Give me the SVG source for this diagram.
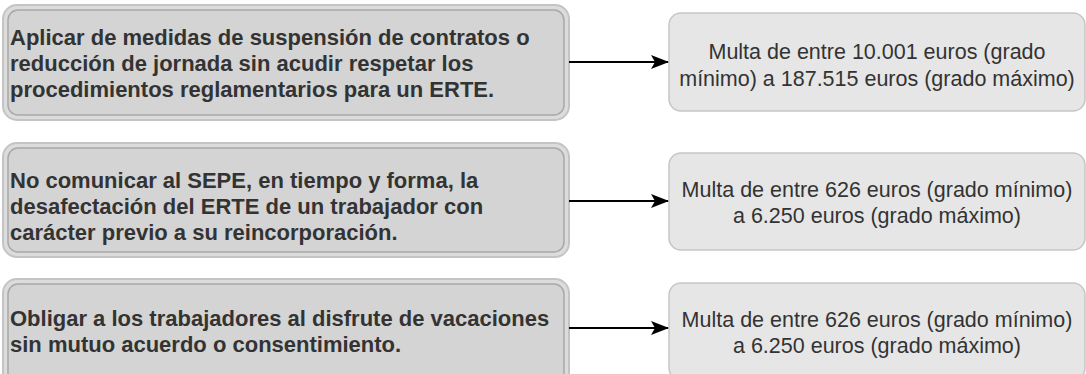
<svg xmlns="http://www.w3.org/2000/svg" width="1086" height="374" viewBox="0 0 1086 374">
<style>
.outer{fill:#dcdcdc;stroke:#c4c4c4;stroke-width:2}
.inner{fill:#d4d4d4;stroke:#a8a8a8;stroke-width:1.5}
.res{fill:#e6e6e6;stroke:#c6c6c6;stroke-width:1.5}
.lt{font-family:"Liberation Sans",Arial,sans-serif;font-weight:bold;font-size:22px;fill:#333}
.rt{font-family:"Liberation Sans",Arial,sans-serif;font-size:21.5px;fill:#333;text-anchor:middle}
.conn{stroke:#000;stroke-width:2;fill:none}
</style>
<defs>
<marker id="ah" markerWidth="18" markerHeight="14" refX="17" refY="7" orient="auto" markerUnits="userSpaceOnUse">
<path d="M0,0 L18,7 L0,14 L4,7 Z" fill="#000"/>
</marker>
</defs>
<g id="n1">
<rect class="outer" x="3" y="5" width="566" height="115" rx="14"/>
<rect class="inner" x="8" y="10" width="556" height="105" rx="10"/>
<text class="lt" x="10"><tspan x="10" y="45">Aplicar de medidas de suspensión de contratos o</tspan><tspan x="10" y="71">reducción de jornada sin acudir respetar los</tspan><tspan x="10" y="97">procedimientos reglamentarios para un ERTE.</tspan></text>
</g>
<g id="n2">
<rect class="outer" x="3" y="143" width="566" height="114" rx="14"/>
<rect class="inner" x="8" y="148" width="556" height="104" rx="10"/>
<text class="lt"><tspan x="10" y="188">No comunicar al SEPE, en tiempo y forma, la</tspan><tspan x="10" y="214">desafectación del ERTE de un trabajador con</tspan><tspan x="10" y="240">carácter previo a su reincorporación.</tspan></text>
</g>
<g id="n3">
<rect class="outer" x="3" y="279" width="566" height="114" rx="14"/>
<rect class="inner" x="8" y="284" width="556" height="104" rx="10"/>
<text class="lt"><tspan x="10" y="326">Obligar a los trabajadores al disfrute de vacaciones</tspan><tspan x="10" y="352">sin mutuo acuerdo o consentimiento.</tspan></text>
</g>
<g id="r1">
<rect class="res" x="669" y="13" width="416" height="98" rx="12"/>
<text class="rt"><tspan x="877" y="59">Multa de entre 10.001 euros (grado</tspan><tspan x="877" y="86">mínimo) a 187.515 euros (grado máximo)</tspan></text>
</g>
<g id="r2">
<rect class="res" x="669" y="153" width="416" height="97" rx="12"/>
<text class="rt"><tspan x="877" y="197">Multa de entre 626 euros (grado mínimo)</tspan><tspan x="877" y="223">a 6.250 euros (grado máximo)</tspan></text>
</g>
<g id="r3">
<rect class="res" x="669" y="283" width="416" height="97" rx="12"/>
<text class="rt"><tspan x="877" y="327">Multa de entre 626 euros (grado mínimo)</tspan><tspan x="877" y="353">a 6.250 euros (grado máximo)</tspan></text>
</g>
<g id="connectors">
<line class="conn" x1="569" y1="62" x2="668" y2="62" marker-end="url(#ah)"/>
<line class="conn" x1="569" y1="201" x2="668" y2="201" marker-end="url(#ah)"/>
<line class="conn" x1="569" y1="328" x2="668" y2="328" marker-end="url(#ah)"/>
</g>
</svg>
